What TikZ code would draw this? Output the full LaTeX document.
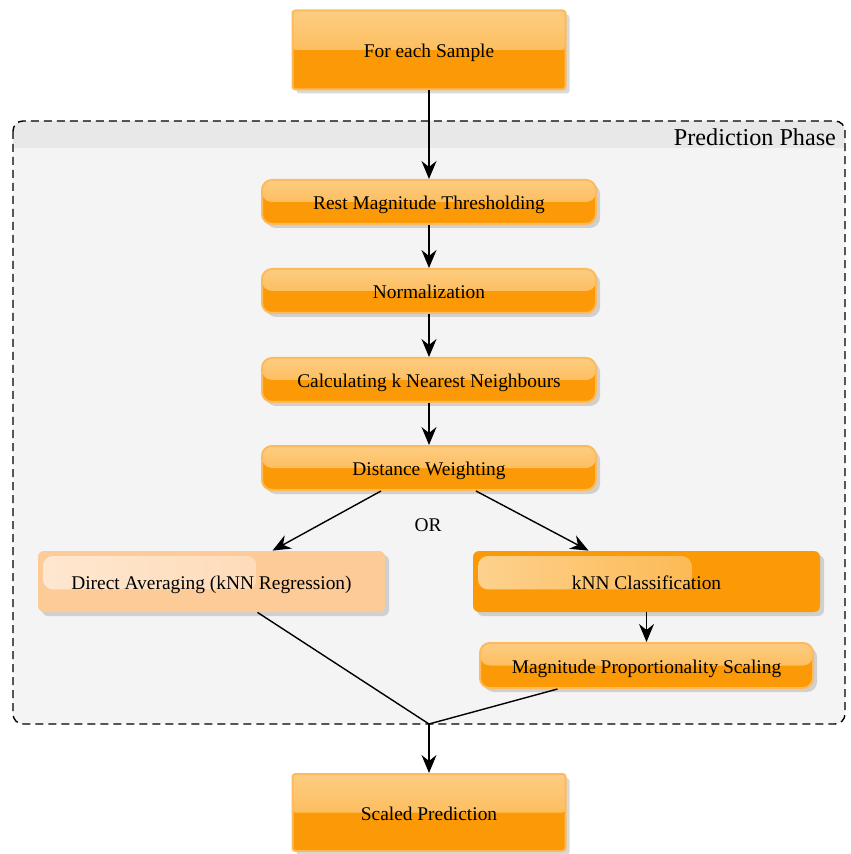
\documentclass[tikz,border=0pt]{standalone}
\usepackage{fontspec}
\setmainfont{Liberation Serif}
\usetikzlibrary{arrows.meta,shadows,calc}
\definecolor{boxorange}{RGB}{251,154,6}
\definecolor{boxedge}{RGB}{252,186,92}
\definecolor{paleorange}{RGB}{253,203,152}
\definecolor{phasebg}{RGB}{244,244,244}
\definecolor{phasehead}{RGB}{232,232,232}
\tikzset{
  glossy/.style={draw=boxedge, line width=1pt, fill=boxorange,
    font=\fontsize{9.7pt}{12pt}\selectfont, text height=7.5pt, text depth=0pt,
    drop shadow={opacity=0.3,shadow xshift=2pt,shadow yshift=-2pt},
    path picture={\shade[top color=white!50!boxorange,bottom color=white!22!boxorange]
      (path picture bounding box.north west) rectangle (path picture bounding box.east);}},
  startbox/.style={glossy, rounded corners=1.5pt, minimum width=136.5pt, minimum height=39.5pt},
  stepbox/.style={glossy, rounded corners=5pt, minimum width=167pt, minimum height=22pt},
  choicebox/.style={fill=#1, rounded corners=3pt, minimum width=173.5pt, minimum height=30.5pt,
    font=\fontsize{9.7pt}{12pt}\selectfont, text height=7.5pt, text depth=0pt,
    drop shadow={opacity=0.3,shadow xshift=2pt,shadow yshift=-2pt},
    path picture={\shade[rounded corners=5pt,left color=white!55!#1,right color=white!18!#1]
      ($(path picture bounding box.north west)+(2.5pt,-2.5pt)$) rectangle
      ($(path picture bounding box.north west)!0.63!(path picture bounding box.south east)$);}},
  arr/.style={-{Stealth[length=9pt,width=7.5pt,inset=3pt]}, line width=0.7pt},
}
\begin{document}
\begin{tikzpicture}[x=0.5pt,y=-0.5pt]
\useasboundingbox (0,0) rectangle (850,854);
% prediction phase frame
\fill[phasebg,rounded corners=5pt] (13,121) rectangle (845,724);
\fill[phasehead,rounded corners=5pt] (13,121) rectangle (845,153);
\fill[phasebg] (13.5,148) rectangle (844.5,153);
\draw[dash pattern=on 4pt off 2.5pt,line width=0.7pt,rounded corners=5pt] (13,121) rectangle (845,724);
\node[anchor=east,font=\fontsize{12.1pt}{14pt}\selectfont] (phase) at (843,137) {Prediction Phase};

\node[startbox] (sample) at (429,50) {For each Sample};
\node[stepbox] (thresh) at (429,202) {Rest Magnitude Thresholding};
\node[stepbox] (norm) at (429,291) {Normalization};
\node[stepbox] (knn) at (429,380) {Calculating k Nearest Neighbours};
\node[stepbox] (weight) at (429,468) {Distance Weighting};
\node[font=\fontsize{9.7pt}{12pt}\selectfont] (or) at (428,525) {OR};
\node[choicebox=paleorange] (direct) at (211.5,581.5) {Direct Averaging (kNN Regression)};
\node[choicebox=boxorange] (classify) at (646.5,581.5) {kNN Classification};
\node[stepbox,minimum width=166.5pt,minimum height=22.5pt] (scaling) at (646.5,665.5) {Magnitude Proportionality Scaling};
\node[startbox,minimum height=38.5pt] (result) at (429,812.5) {Scaled Prediction};
\coordinate (merge) at (429,724);

\draw[arr] (sample) -- (thresh);
\draw[arr] (thresh) -- (norm);
\draw[arr] (norm) -- (knn);
\draw[arr] (knn) -- (weight);
\draw[arr] ([xshift=-24pt]weight.south) -- ([xshift=30.5pt]direct.north);
\draw[arr] ([xshift=23.5pt]weight.south) -- ([xshift=-29pt]classify.north);
\draw[arr] (classify) -- (scaling);
\draw[line width=0.7pt] ([xshift=23pt]direct.south) -- (merge);
\draw[line width=0.7pt] ([xshift=-44.5pt]scaling.south) -- (merge);
\draw[arr] (merge) -- (result);
\end{tikzpicture}
\end{document}
